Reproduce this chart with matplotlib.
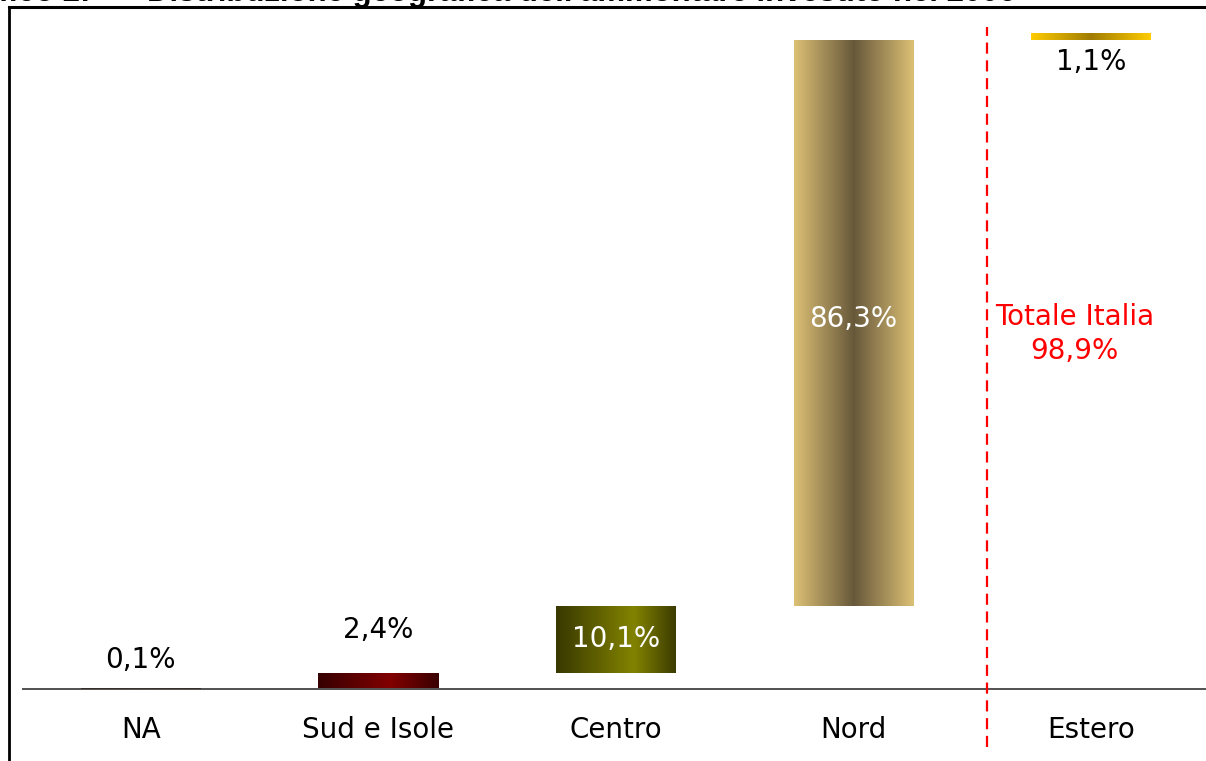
import matplotlib
matplotlib.use("Agg")
import matplotlib.pyplot as plt
import numpy as np
from matplotlib.colors import LinearSegmentedColormap
from matplotlib.lines import Line2D

# ---- data ----
categories = ["NA", "Sud e Isole", "Centro", "Nord", "Estero"]
values = [0.1, 2.4, 10.1, 86.3, 1.1]
value_labels = ["0,1%", "2,4%", "10,1%", "86,3%", "1,1%"]
total_italia_label = "Totale Italia\n98,9%"
title_prefix = "Grafico 2:"
title_text = "Distribuzione geografica dell'ammontare investito nel 2006"

# gradient colour stops per bar (edge, centre, edge)
bar_gradients = [
    [(0.0, "#3a1800"), (0.5, "#6b3410"), (1.0, "#3a1800")],
    [(0.0, "#360000"), (0.6, "#820000"), (1.0, "#3a0000")],
    [(0.0, "#383800"), (0.65, "#838300"), (1.0, "#3c3c00")],
    [(0.0, "#dcc075"), (0.5, "#67583a"), (1.0, "#dcc075")],
    [(0.0, "#ffcc00"), (0.5, "#a07c00"), (1.0, "#ffcc00")],
]
label_colors = ["#000000", "#000000", "#ffffff", "#ffffff", "#000000"]

W, H = 1206, 761
fig = plt.figure(figsize=(W / 100, H / 100), dpi=100)
fig.patch.set_facecolor("white")

# axes: baseline (value 0) at y=689 px, value 100 at y=33 px
px_per_unit = (689 - 33) / 100.0
y_bottom = -(H - 689) / px_per_unit
y_top = 689 / px_per_unit
ax_left = 22
ax_width = 1188
ax = fig.add_axes([ax_left / W, 0, ax_width / W, 1])
ax.set_xlim(-0.5, 4.5)
ax.set_ylim(y_bottom, y_top)
ax.axis("off")

x = np.arange(len(categories))
bottoms = np.concatenate([[0], np.cumsum(values)[:-1]])
bar_w = 120 / (ax_width / 5)

grad = np.linspace(0, 1, 256).reshape(1, -1)
for i, (xi, b, v) in enumerate(zip(x, bottoms, values)):
    patch = ax.bar(xi, v, bottom=b, width=bar_w, color="none", edgecolor="none", zorder=2)[0]
    cmap = LinearSegmentedColormap.from_list(f"g{i}", bar_gradients[i])
    im = ax.imshow(grad, cmap=cmap, aspect="auto", interpolation="bilinear",
                   extent=[xi - bar_w / 2, xi + bar_w / 2, b, b + max(v, 0.12)], zorder=2)
    if v >= 0.5:
        im.set_clip_path(patch)

ax.set_xlim(-0.5, 4.5)
ax.set_ylim(y_bottom, y_top)

# baseline
ax.axhline(0, color="#333333", lw=1.2, zorder=3)

fs = 20
# value labels
label_y = [4.4, 9.0, bottoms[2] + values[2] / 2, bottoms[3] + values[3] / 2 + 0.7, 95.6]
for i in range(len(categories)):
    ax.text(x[i], label_y[i], value_labels[i], ha="center", va="center",
            fontsize=fs, color=label_colors[i], family="DejaVu Sans", zorder=4)

# category labels
for i, c in enumerate(categories):
    ax.text(x[i], -6.25, c, ha="center", va="center", fontsize=fs,
            color="black", family="DejaVu Sans")

# dashed separator
sep_x = 3.56
ax.plot([sep_x, sep_x], [-8.8, 100.9], color="#ff0000", lw=1.6,
        ls=(0, (5, 3)), clip_on=False, zorder=5)
ax.text(3.93, (689 - 334) / px_per_unit, total_italia_label, ha="center", va="center",
        fontsize=fs, color="#ff0000", family="DejaVu Sans", linespacing=1.25)

# outer frame (left and top lines)
fig.add_artist(Line2D([9 / W, 9 / W], [0, 1 - 7 / H], transform=fig.transFigure,
                      color="black", lw=2))
fig.add_artist(Line2D([9 / W, 1.0], [1 - 7 / H, 1 - 7 / H], transform=fig.transFigure,
                      color="black", lw=2.2))

# cut-off title
fig.text(90 / W, 1 - 1.2 / H, title_prefix, ha="right", va="baseline", fontsize=22.4,
         fontweight="bold", family="Liberation Sans")
fig.text(147 / W, 1 - 1.2 / H, title_text, ha="left", va="baseline", fontsize=22.4,
         fontweight="bold", family="Liberation Sans")

fig.savefig("out.png", dpi=100)
